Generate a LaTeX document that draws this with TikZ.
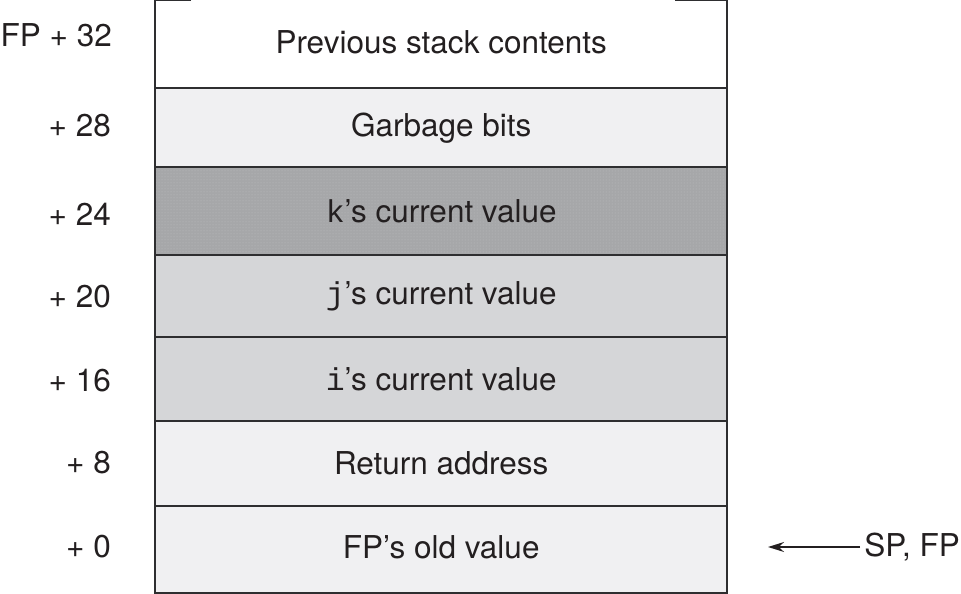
\documentclass[tikz,border=0pt]{standalone}
\usepackage{fontspec}
\setmainfont{TeX Gyre Heros}
\newfontfamily\codefont{Liberation Mono}
\usetikzlibrary{arrows.meta,patterns}
\definecolor{ink}{HTML}{231F20}
\definecolor{rule}{HTML}{2E2E30}
\definecolor{pale}{HTML}{F0F0F2}
\definecolor{mid}{HTML}{D5D6D8}
\definecolor{dark}{HTML}{A6A7A9}
\definecolor{speck}{HTML}{BDBEC0}
\tikzset{
  label font/.style={font=\fontsize{31.5}{34}\selectfont},
  cell/.style={inner sep=0pt, minimum width=572pt, anchor=north west,
    text=ink, label font},
  offset/.style={inner sep=0pt, anchor=east, text=ink, label font},
  frame/.style={draw=rule, line width=2pt},
  pointer/.style={draw=ink, line width=1.5pt, -{Stealth[length=16pt,width=10pt]}}
}
\newcommand{\cvar}[1]{{\codefont #1}}
\begin{document}
\begin{tikzpicture}[x=1pt,y=-1pt]
  \useasboundingbox (0,0) rectangle (961,594);
  % stack slots, top to bottom
  \node[cell, fill=white, minimum height=84pt] (prev) at (155,0) {Previous stack contents};
  \fill[white] (155,84) rectangle (727,88);
  \node[cell, fill=pale, minimum height=79pt] (garb) at (155,88) {Garbage bits};
  \node[cell, fill=dark, minimum height=88pt] (kval) at (155,167) {};
  \fill[pattern=dots, pattern color=speck] (155,167) rectangle (727,255);
  \node[text=ink, label font] at (kval.center) {\cvar{k}’s current value};
  \node[cell, fill=mid, minimum height=82pt] (jval) at (155,255) {\cvar{j}’s current value};
  \node[cell, fill=mid, minimum height=84pt] (ival) at (155,337) {\cvar{i}’s current value};
  \node[cell, fill=pale, minimum height=85pt] (ret) at (155,421) {Return address};
  \node[cell, fill=pale, minimum height=82pt] (old) at (155,506) {FP’s old value};
  \fill[pale] (155,588) rectangle (727,593);
  % outline: open top with short stubs
  \draw[frame] (191,0) -- (155,0) -- (155,593) -- (727,593) -- (727,0) -- (675,0);
  \foreach \y in {88,167,255,337,421,506}
    \draw[frame] (155,\y) -- (727,\y);
  % offsets from the frame pointer
  \node[offset] (o32) at (112,35) {FP + 32};
  \node[offset] (o28) at (111,126) {+ 28};
  \node[offset] (o24) at (111,214) {+ 24};
  \node[offset] (o20) at (111,297) {+ 20};
  \node[offset] (o16) at (111,381) {+ 16};
  \node[offset] (o8) at (111,463) {+ 8};
  \node[offset] (o0) at (111,547) {+ 0};
  % stack/frame pointer marker
  \node[inner sep=0pt, anchor=east, text=ink, label font] (spfp) at (960,547) {SP, FP};
  \coordinate (tip) at (768,547);
  \draw[pointer, shorten <=4pt] (spfp.west) -- (tip);
\end{tikzpicture}
\end{document}
